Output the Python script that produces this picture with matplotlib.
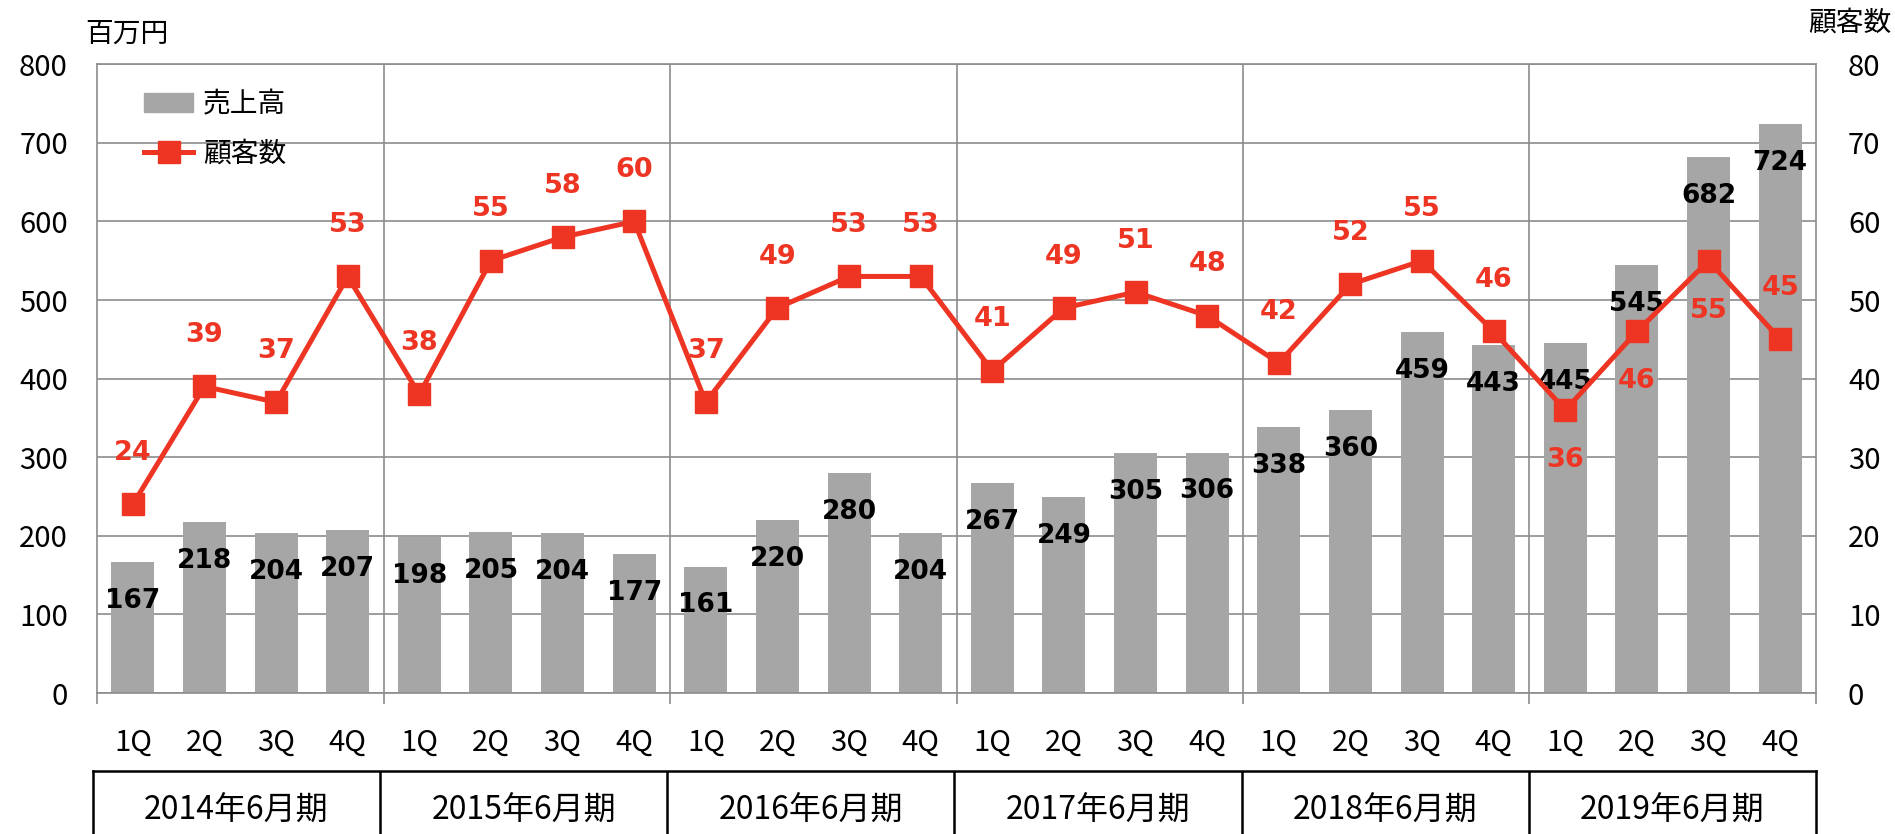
import matplotlib
matplotlib.use('Agg')
import matplotlib.pyplot as plt
from matplotlib.lines import Line2D
from matplotlib.patches import Patch

plt.rcParams['font.family'] = ['Noto Sans CJK JP', 'DejaVu Sans']

# 売上高（百万円）と顧客数
quarters = ['1Q', '2Q', '3Q', '4Q'] * 6
years = ['2014年6月期', '2015年6月期', '2016年6月期', '2017年6月期', '2018年6月期', '2019年6月期']
sales = [167, 218, 204, 207, 198, 205, 204, 177, 161, 220, 280, 204,
         267, 249, 305, 306, 338, 360, 459, 443, 445, 545, 682, 724]
customers = [24, 39, 37, 53, 38, 55, 58, 60, 37, 49, 53, 53,
             41, 49, 51, 48, 42, 52, 55, 46, 36, 46, 55, 45]
# 顧客数ラベルをマーカーの下に置く点
below = [20, 21, 22]

BAR = '#A6A6A6'
RED = '#EE3524'
GRID = '#8C8C8C'

fig = plt.figure(figsize=(18.95, 8.34), dpi=100)
ax = fig.add_axes([0.0512, 0.169, 0.9071, 0.754])
x = list(range(len(sales)))

ax.bar(x, sales, width=0.6, color=BAR, zorder=2)
for i, v in enumerate(sales):
    ax.annotate(str(v), (i, v), xytext=(0, -28), textcoords='offset points',
                ha='center', va='center', fontsize=19, fontweight='bold',
                family='DejaVu Sans', color='black', zorder=3)

ax.set_xlim(-0.5, len(sales) - 0.5)
ax.set_ylim(0, 800)
ax.set_yticks(range(0, 801, 100))
ax.yaxis.grid(True, color=GRID, lw=1.2, zorder=0)
for b in range(4, len(sales), 4):
    ax.axvline(b - 0.5, color=GRID, lw=1.2, zorder=0)
ax.set_xticks(x)
ax.set_xticklabels(quarters)
ax.set_xticks([b - 0.5 for b in range(0, len(sales) + 1, 4)], minor=True)
ax.tick_params(axis='x', which='major', length=0, pad=25, labelsize=21)
ax.tick_params(axis='x', which='minor', length=8, color=GRID, width=1.2)
ax.tick_params(axis='y', length=0, pad=21, labelsize=21)
for s in ax.spines.values():
    s.set_color(GRID)
    s.set_linewidth(1.2)

ax2 = ax.twinx()
ax2.plot(x, customers, color=RED, lw=3.6, marker='s', markersize=16, zorder=4)
for i, v in enumerate(customers):
    off = -36 if i in below else 37
    ax2.annotate(str(v), (i, v), xytext=(0, off), textcoords='offset points',
                 ha='center', va='center', fontsize=19.5, fontweight='bold',
                 family='DejaVu Sans', color=RED)
ax2.set_ylim(0, 80)
ax2.set_yticks(range(0, 81, 10))
ax2.tick_params(axis='y', length=0, pad=23, labelsize=21)
for s in ax2.spines.values():
    s.set_visible(False)

handles = [Patch(color=BAR), Line2D([0], [0], color=RED, lw=3.6, marker='s', markersize=16)]
ax2.legend(handles, ['売上高', '顧客数'], loc='upper left', bbox_to_anchor=(0.013, 1.0),
           frameon=False, fontsize=20, handlelength=1.75, labelspacing=0.7, handletextpad=0.35)

fig.text(0.045, 0.96, '百万円', fontsize=20, ha='left', va='center')
fig.text(0.998, 0.973, '顧客数', fontsize=20, ha='right', va='center')

# 期の表
tab = fig.add_axes([0.049, -0.05, 0.9093, 0.1255])
tab.set_xlim(-0.5, len(sales) - 0.5)
tab.set_ylim(0, 1)
tab.set_xticks([])
tab.set_yticks([])
for s in tab.spines.values():
    s.set_color('black')
    s.set_linewidth(1.8)
for k, yr in enumerate(years):
    if k > 0:
        tab.axvline(4 * k - 0.5, color='black', lw=1.8)
    tab.text(4 * k + 1.5, 0.62, yr, ha='center', va='center', fontsize=23)

fig.savefig('out.png', dpi=100)
